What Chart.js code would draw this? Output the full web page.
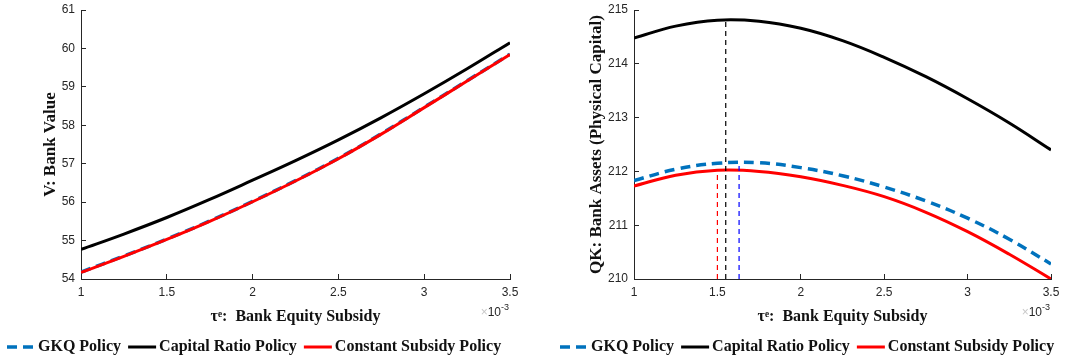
<!DOCTYPE html>
<html>
<head>
<meta charset="utf-8">
<script src="https://cdn.jsdelivr.net/npm/chart.js@4.4.0/dist/chart.umd.min.js"></script>
<style>
  html, body { margin: 0; padding: 0; background: #fff; overflow: hidden; }
  canvas { position: absolute; top: 0; }
  #valueChart { left: 0; }
  #assetsChart { left: 540px; }
</style>
</head>
<body>
<canvas id="valueChart" width="540" height="362"></canvas>
<canvas id="assetsChart" width="541" height="362"></canvas>
<script>
// x: bank equity subsidy (x 10^-3)
const subsidy = [1, 1.25, 1.5, 1.75, 2, 2.25, 2.5, 2.75, 3, 3.25, 3.5]
const subsidyTicks = [1, 1.5, 2, 2.5, 3, 3.5]

// V: bank value
const valueGKQ = [54.18, 54.60, 55.04, 55.51, 56.02, 56.56, 57.14, 57.78, 58.47, 59.16, 59.85]
const valueCapital = [54.77, 55.17, 55.60, 56.07, 56.57, 57.08, 57.62, 58.20, 58.82, 59.47, 60.15]
const valueConstant = [54.17, 54.59, 55.03, 55.50, 56.01, 56.55, 57.13, 57.77, 58.46, 59.15, 59.84]
const valueTicks = [54, 55, 56, 57, 58, 59, 60, 61]

// QK: bank assets (physical capital)
const assetsGKQ = [211.83, 212.04, 212.15, 212.16, 212.07, 211.92, 211.71, 211.45, 211.13, 210.74, 210.28]
const assetsCapital = [214.48, 214.70, 214.81, 214.79, 214.66, 214.43, 214.12, 213.76, 213.35, 212.90, 212.40]
const assetsConstant = [211.73, 211.93, 212.02, 212.00, 211.90, 211.74, 211.53, 211.24, 210.88, 210.46, 210.00]
const assetTicks = [210, 211, 212, 213, 214, 215]

// subsidy where QK peaks, per policy (GKQ, capital ratio, constant)
const peakSubsidy = [1.63, 1.55, 1.5]
const peakAssets = [212.17, 214.82, 212.02]

const policyNames = ['GKQ Policy', 'Capital Ratio Policy', 'Constant Subsidy Policy']

const policyStyles = [
  { color: '#0072bd', width: 3.5, dash: [10, 6] },
  { color: '#000000', width: 3, dash: [] },
  { color: '#ff0000', width: 3, dash: [] }
]
const peakColors = ['#0000ff', '#000000', '#ff0000']

const axisColor = '#262626'
const tickFont = { family: '"Liberation Sans", Arial, sans-serif', size: 12 }
const serif = '"Liberation Serif", "Times New Roman", serif'

function policyDatasets(series) {
  return series.map((ys, i) => ({
    label: policyNames[i],
    data: subsidy.map((x, j) => ({ x, y: ys[j] })),
    borderColor: policyStyles[i].color,
    borderWidth: policyStyles[i].width,
    borderDash: policyStyles[i].dash,
    pointRadius: 0,
    tension: 0.4,
    // red drawn last, blue underneath
    order: 3 - i
  }))
}

function peakDatasets() {
  return peakSubsidy.map((x, i) => ({
    label: 'peak',
    data: [{ x, y: assetTicks[0] }, { x, y: peakAssets[i] }],
    borderColor: peakColors[i],
    borderWidth: 1.2,
    borderDash: [5, 4],
    pointRadius: 0,
    order: 0
  }))
}

function subsidyAxis() {
  return {
    type: 'linear',
    min: subsidyTicks[0],
    max: subsidyTicks[subsidyTicks.length - 1],
    afterBuildTicks: scale => { scale.ticks = subsidyTicks.map(value => ({ value })) },
    afterFit: scale => { scale.height = 47 },
    border: { color: axisColor, width: 1 },
    grid: { drawOnChartArea: false, tickLength: -5, color: axisColor },
    ticks: { padding: 11, color: axisColor, font: tickFont, maxRotation: 0, autoSkip: false, callback: v => v },
    title: {
      display: true, text: 'τᵉ:  Bank Equity Subsidy', color: '#111', padding: 0,
      font: { family: serif, size: 16, weight: 'bold' }
    }
  }
}

function levelAxis(tickList, title, width, titlePad) {
  return {
    type: 'linear',
    min: tickList[0],
    max: tickList[tickList.length - 1],
    afterBuildTicks: scale => { scale.ticks = tickList.map(value => ({ value })) },
    afterFit: scale => {
      scale.width = width
      // labels are allowed to poke past the plot edges, MATLAB-style
      scale.paddingTop = 0
      scale.paddingBottom = 0
    },
    border: { color: axisColor, width: 1 },
    grid: { drawOnChartArea: false, tickLength: -5, color: axisColor },
    ticks: { padding: 11, color: axisColor, font: tickFont, callback: v => v },
    title: {
      display: true, text: title, color: '#111', padding: { top: titlePad, bottom: 0 },
      font: { family: serif, size: 17, weight: 'bold' }
    }
  }
}

// "x10^-3" multiplier under the right end of the x axis
const exponentLabel = {
  id: 'exponentLabel',
  afterDraw(chart) {
    const { ctx, chartArea } = chart
    const x = chartArea.right - 1
    const y = chartArea.bottom + 37
    ctx.save()
    ctx.textAlign = 'right'
    ctx.textBaseline = 'alphabetic'
    ctx.fillStyle = axisColor
    ctx.font = '9px "Liberation Sans"'
    ctx.fillText('-3', x, y - 6)
    const w = ctx.measureText('-3').width
    ctx.font = '12px "Liberation Sans"'
    ctx.fillText('10', x - w, y)
    const w10 = ctx.measureText('10').width
    ctx.fillStyle = '#c8c8c8'
    ctx.fillText('×', x - w - w10, y)
    ctx.restore()
  }
}

// legend row under each panel, drawn MATLAB-style (short line, tight gap)
const policyLegend = {
  id: 'policyLegend',
  afterDraw(chart) {
    const { ctx, chartArea } = chart
    let x = chartArea.left - 74
    const y = chartArea.bottom + 68
    ctx.save()
    ctx.font = 'bold 16px ' + serif
    ctx.textBaseline = 'middle'
    ctx.fillStyle = '#111'
    policyNames.forEach((name, i) => {
      const s = policyStyles[i]
      ctx.strokeStyle = s.color
      ctx.lineWidth = s.width
      ctx.setLineDash(s.dash)
      ctx.beginPath()
      ctx.moveTo(x, y)
      ctx.lineTo(x + 28, y)
      ctx.stroke()
      x += 31
      ctx.fillText(name, x, y)
      x += ctx.measureText(name).width + 7
    })
    ctx.restore()
  }
}

function renderPanel(canvasId, datasets, yAxis, padRight) {
  return new Chart(document.getElementById(canvasId), {
    type: 'line',
    data: { datasets },
    options: {
      responsive: false,
      animation: false,
      events: [],
      layout: { padding: { left: 0, right: padRight, top: 10, bottom: 36 } },
      scales: { x: subsidyAxis(), y: yAxis },
      plugins: {
        legend: { display: false },
        tooltip: { enabled: false }
      }
    },
    plugins: [exponentLabel, policyLegend]
  })
}

renderPanel('valueChart',
  policyDatasets([valueGKQ, valueCapital, valueConstant]),
  levelAxis(valueTicks, 'V: Bank Value', 81, 40), 30)

renderPanel('assetsChart',
  [...policyDatasets([assetsGKQ, assetsCapital, assetsConstant]), ...peakDatasets()],
  levelAxis(assetTicks, 'QK: Bank Assets (Physical Capital)', 94, 46), 30)
</script>
</body>
</html>
